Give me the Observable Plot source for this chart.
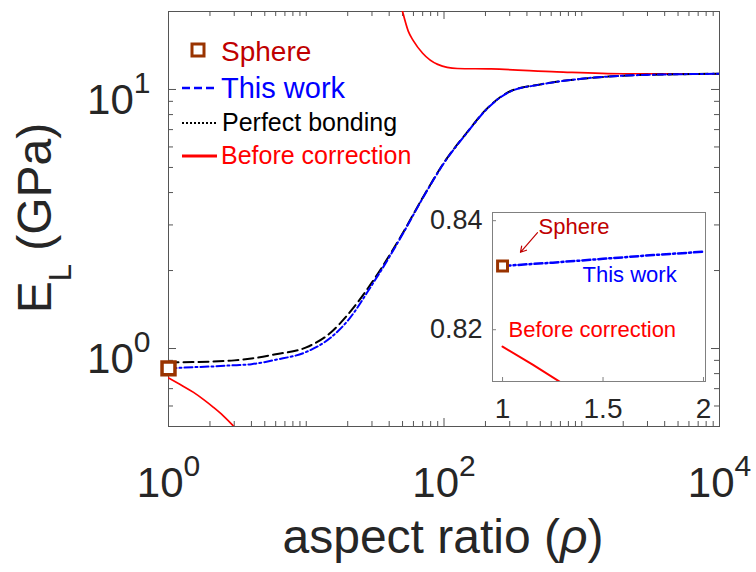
<!DOCTYPE html>
<html><head><meta charset="utf-8">
<script src="https://cdn.jsdelivr.net/npm/d3@7"></script>
<script src="https://cdn.jsdelivr.net/npm/@observablehq/plot@0.6"></script>
<style>
body{margin:0;background:#fff;}
#wrap{position:relative;width:756px;height:572px;font-family:"Liberation Sans",Arial,sans-serif;}
#wrap svg{position:absolute;}
</style></head><body><div id="wrap"></div>
<script>
// ---------- data ----------
const rho            = [1, 1.5, 2, 3, 4, 6, 10, 15, 20, 30, 40, 50, 70, 100, 150, 200, 300, 500, 1000, 2000, 5000, 10000];
const thisWork       = [0.838, 0.847, 0.852, 0.862, 0.870, 0.905, 0.97, 1.10, 1.28, 1.76, 2.25, 2.76, 3.80, 5.2, 6.9, 8.3, 9.8, 10.45, 11.0, 11.3, 11.45, 11.5];
const perfectBonding = [0.883, 0.887, 0.890, 0.900, 0.915, 0.950, 1.01, 1.15, 1.35, 1.80, 2.28, 2.78, 3.82, 5.22, 6.92, 8.32, 9.82, 10.46, 11.0, 11.3, 11.45, 11.5];
const beforeRhoLow   = [1, 1.25, 1.52, 1.8, 2.12, 2.5, 2.92, 3.3];
const beforeLow      = [0.77, 0.72, 0.677, 0.635, 0.593, 0.55, 0.506, 0.47];
const beforeRhoHigh  = [46, 50, 55, 60, 70, 90, 125, 220, 660, 2000, 10000];
const beforeHigh     = [24, 20, 16.8, 15.4, 13.8, 12.5, 12.05, 12.0, 11.7, 11.5, 11.5];
const sphereRho = [1];
const sphereE   = [0.838];

const xMajorTicks = [1, 100, 10000];
const xMinorTicks = [2,3,4,5,6,7,8,9,10,20,30,40,50,60,70,80,90,200,300,400,500,600,700,800,900,1000,2000,3000,4000,5000,6000,7000,8000,9000];
const yMajorTicks = [1, 10];
const yMinorTicks = [0.5,0.6,0.7,0.8,0.9,2,3,4,5,6,7,8,9,20];

// inset
const insetRho      = [1, 1.25, 1.5, 1.75, 2];
const insetThisWork = [0.8317, 0.8323, 0.8330, 0.8337, 0.8343];
const insetBeforeRho = [1, 1.15, 1.3];
const insetBefore    = [0.8169, 0.8136, 0.8101];
const insetSphereRho = [1];
const insetSphereE   = [0.8317];
const insetXTicks = [1, 1.5, 2];
const insetYTicks = [0.82, 0.84];
const insetLabels = ["Sphere", "This work", "Before correction"];
const insetLabelX = [1.179, 1.398, 1.030];
const insetLabelY = [0.8376, 0.8287, 0.8186];
const insetLabelColor = ["#c00000", "#0000ff", "#ff0000"];
const insetArrow = [{x1: 1.174, y1: 0.8378, x2: 1.089, y2: 0.8342}];

const legendLabels = ["Sphere", "This work", "Perfect bonding", "Before correction"];

// ---------- build ----------
const FONT = '"Liberation Sans", Arial, sans-serif';
const W = 756, H = 572, mL = 168, mT = 11, mR = 37, mB = 146;
const iW = W - mL - mR, iH = H - mT - mB;
const AX = "#555";

const mainData = rho.map((r, i) => ({rho: r, tw: thisWork[i], pb: perfectBonding[i]}));
const lowData  = beforeRhoLow.map((r, i) => ({rho: r, v: beforeLow[i]}));
const highData = beforeRhoHigh.map((r, i) => ({rho: r, v: beforeHigh[i]}));
const sphere   = sphereRho.map((r, i) => ({rho: r, v: sphereE[i]}));

const main = Plot.plot({
  width: W, height: H, marginLeft: mL, marginTop: mT, marginRight: mR, marginBottom: mB,
  style: {fontFamily: FONT, color: "#262626", background: "transparent", overflow: "visible"},
  x: {type: "log", domain: [1, 1e4]},
  y: {type: "log", domain: [0.5, 20]},
  marks: [
    Plot.frame({stroke: AX, strokeWidth: 1}),
    Plot.tickX(xMinorTicks, {x: d => d, insetTop: iH - 5, stroke: AX}),
    Plot.tickX(xMinorTicks, {x: d => d, insetBottom: iH - 5, stroke: AX}),
    Plot.tickX(xMajorTicks, {x: d => d, insetTop: iH - 8, stroke: AX}),
    Plot.tickX(xMajorTicks, {x: d => d, insetBottom: iH - 8, stroke: AX}),
    Plot.tickY(yMinorTicks, {y: d => d, insetRight: iW - 5, stroke: AX}),
    Plot.tickY(yMinorTicks, {y: d => d, insetLeft: iW - 5, stroke: AX}),
    Plot.tickY(yMajorTicks, {y: d => d, insetRight: iW - 8, stroke: AX}),
    Plot.tickY(yMajorTicks, {y: d => d, insetLeft: iW - 8, stroke: AX}),
    Plot.line(lowData,  {x: "rho", y: "v", stroke: "#ff0000", strokeWidth: 1.7, curve: "monotone-x", clip: true}),
    Plot.line(highData, {x: "rho", y: "v", stroke: "#ff0000", strokeWidth: 1.7, curve: "monotone-x", clip: true}),
    Plot.line(mainData, {x: "rho", y: "pb", stroke: "#000", strokeWidth: 2, strokeDasharray: "10,5", curve: "monotone-x", clip: true}),
    Plot.line(mainData, {x: "rho", y: "tw", stroke: "#0000ff", strokeWidth: 2, strokeDasharray: "8,3,2,3", curve: "monotone-x", clip: true}),
    Plot.dot(sphere, {x: "rho", y: "v", symbol: "square", r: 7.3, stroke: "#993300", strokeWidth: 3.5, fill: "white"}),
    Plot.axisX({ticks: xMajorTicks, tickSize: 0, tickPadding: 41, fontSize: 42,
      tickFormat: d => "10^" + Math.round(Math.log10(d)),
      label: "aspect ratio (ρ)", labelAnchor: "center", labelOffset: 100, labelArrow: "none"}),
    Plot.axisY({ticks: yMajorTicks, tickSize: 0, tickPadding: 18, fontSize: 42, dy: 11,
      tickFormat: d => "10^" + Math.round(Math.log10(d)),
      label: "E_L (GPa)", labelAnchor: "center", labelOffset: 150, labelArrow: "none"})
  ]
});

const NS = "http://www.w3.org/2000/svg";
function tspan(parent, txt, attrs) {
  const t = document.createElementNS(NS, "tspan");
  t.textContent = txt;
  for (const k in (attrs || {})) t.setAttribute(k, attrs[k]);
  parent.appendChild(t);
  return t;
}
main.querySelectorAll('g[aria-label="x-axis tick label"] text, g[aria-label="y-axis tick label"] text').forEach(el => {
  const [b, e] = el.textContent.split("^");
  el.textContent = "";
  tspan(el, b);
  tspan(el, e, {"font-size": 30, dy: -21});
});
function resetLabel(sel, transform, build, size) {
  const g = main.querySelector(sel);
  if (!g) return;
  g.removeAttribute("transform");
  const el = g.querySelector("text");
  ["x", "y", "dy", "dx", "transform"].forEach(a => el.removeAttribute(a));
  el.setAttribute("transform", transform);
  el.setAttribute("text-anchor", "middle");
  el.setAttribute("font-size", size);
  g.setAttribute("font-size", size);
  el.textContent = "";
  build(el);
}
resetLabel('g[aria-label="x-axis label"]', "translate(443,553)", el => {
  tspan(el, "aspect ratio (");
  tspan(el, "ρ", {"font-style": "italic"});
  tspan(el, ")");
}, 48);
resetLabel('g[aria-label="y-axis label"]', "translate(51,218) rotate(-90)", el => {
  tspan(el, "E");
  tspan(el, "L", {"font-size": 31, dy: 20});
  tspan(el, " (GPa)", {dy: -20});
}, 48);

const wrap = document.getElementById("wrap");
main.style.left = "0px"; main.style.top = "0px";
wrap.appendChild(main);

// ---------- legend (inside the main axes) ----------
const leg = d3.create("svg").attr("width", W).attr("height", 200)
  .style("left", "0px").style("top", "0px").attr("font-family", FONT);
leg.append("rect").attr("x", 192).attr("y", 44).attr("width", 12).attr("height", 12)
  .attr("fill", "white").attr("stroke", "#993300").attr("stroke-width", 3);
leg.append("text").attr("x", 221).attr("y", 61).attr("font-size", 28).attr("fill", "#c00000").text(legendLabels[0]);
leg.append("line").attr("x1", 182).attr("x2", 217).attr("y1", 88).attr("y2", 88)
  .attr("stroke", "#0000ff").attr("stroke-width", 2.5).attr("stroke-dasharray", "8,4");
leg.append("text").attr("x", 221).attr("y", 98).attr("font-size", 29).attr("fill", "#0000ff").text(legendLabels[1]);
leg.append("line").attr("x1", 182).attr("x2", 217).attr("y1", 123).attr("y2", 123)
  .attr("stroke", "#000").attr("stroke-width", 2).attr("stroke-dasharray", "2,2");
leg.append("text").attr("x", 222).attr("y", 131).attr("font-size", 25).attr("fill", "#000").text(legendLabels[2]);
leg.append("line").attr("x1", 182).attr("x2", 217).attr("y1", 156).attr("y2", 156)
  .attr("stroke", "#ff0000").attr("stroke-width", 3);
leg.append("text").attr("x", 221).attr("y", 164).attr("font-size", 25).attr("fill", "#ff0000").text(legendLabels[3]);
wrap.appendChild(leg.node());

// ---------- inset ----------
const insetLine   = insetRho.map((r, i) => ({rho: r, v: insetThisWork[i]}));
const insetRed    = insetBeforeRho.map((r, i) => ({rho: r, v: insetBefore[i]}));
const insetSphere = insetSphereRho.map((r, i) => ({rho: r, v: insetSphereE[i]}));
const insetText   = insetLabels.map((t, i) => ({t, x: insetLabelX[i], y: insetLabelY[i], c: insetLabelColor[i]}));
const iw = 300, ih = 232, imL = 82, imR = 5, imT = 17, imB = 46;
const iiW = iw - imL - imR, iiH = ih - imT - imB;
const inset = Plot.plot({
  width: iw, height: ih, marginLeft: imL, marginRight: imR, marginTop: imT, marginBottom: imB,
  style: {fontFamily: FONT, color: "#262626", background: "transparent", overflow: "visible"},
  x: {domain: [0.95, 2.01]},
  y: {domain: [0.8105, 0.8415]},
  marks: [
    Plot.frame({fill: "white", stroke: "#808080"}),
    Plot.tickX(insetXTicks, {x: d => d, insetTop: iiH - 4, stroke: "#808080"}),
    Plot.tickY(insetYTicks, {y: d => d, insetRight: iiW - 4, stroke: "#808080"}),
    Plot.line(insetRed, {x: "rho", y: "v", stroke: "#ff0000", strokeWidth: 2, clip: true}),
    Plot.line(insetLine, {x: "rho", y: "v", stroke: "#0000ff", strokeWidth: 2.5, strokeDasharray: "8,3,2,3"}),
    Plot.dot(insetSphere, {x: "rho", y: "v", symbol: "square", r: 5.6, stroke: "#993300", strokeWidth: 3, fill: "white"}),
    Plot.arrow(insetArrow, {x1: "x1", y1: "y1", x2: "x2", y2: "y2", stroke: "#c00000", strokeWidth: 1.2, headLength: 8}),
    Plot.text(insetText, {x: "x", y: "y", text: "t", fill: "c", textAnchor: "start", lineAnchor: "bottom", fontSize: 22}),
    Plot.axisX({ticks: insetXTicks, tickSize: 0, tickPadding: 17, fontSize: 28, tickFormat: d => String(d), label: null}),
    Plot.axisY({ticks: insetYTicks, tickSize: 0, tickPadding: 10, fontSize: 27, tickFormat: d => d.toFixed(2), label: null})
  ]
});
inset.style.left = "410px"; inset.style.top = "195px";
wrap.appendChild(inset);
</script></body></html>
